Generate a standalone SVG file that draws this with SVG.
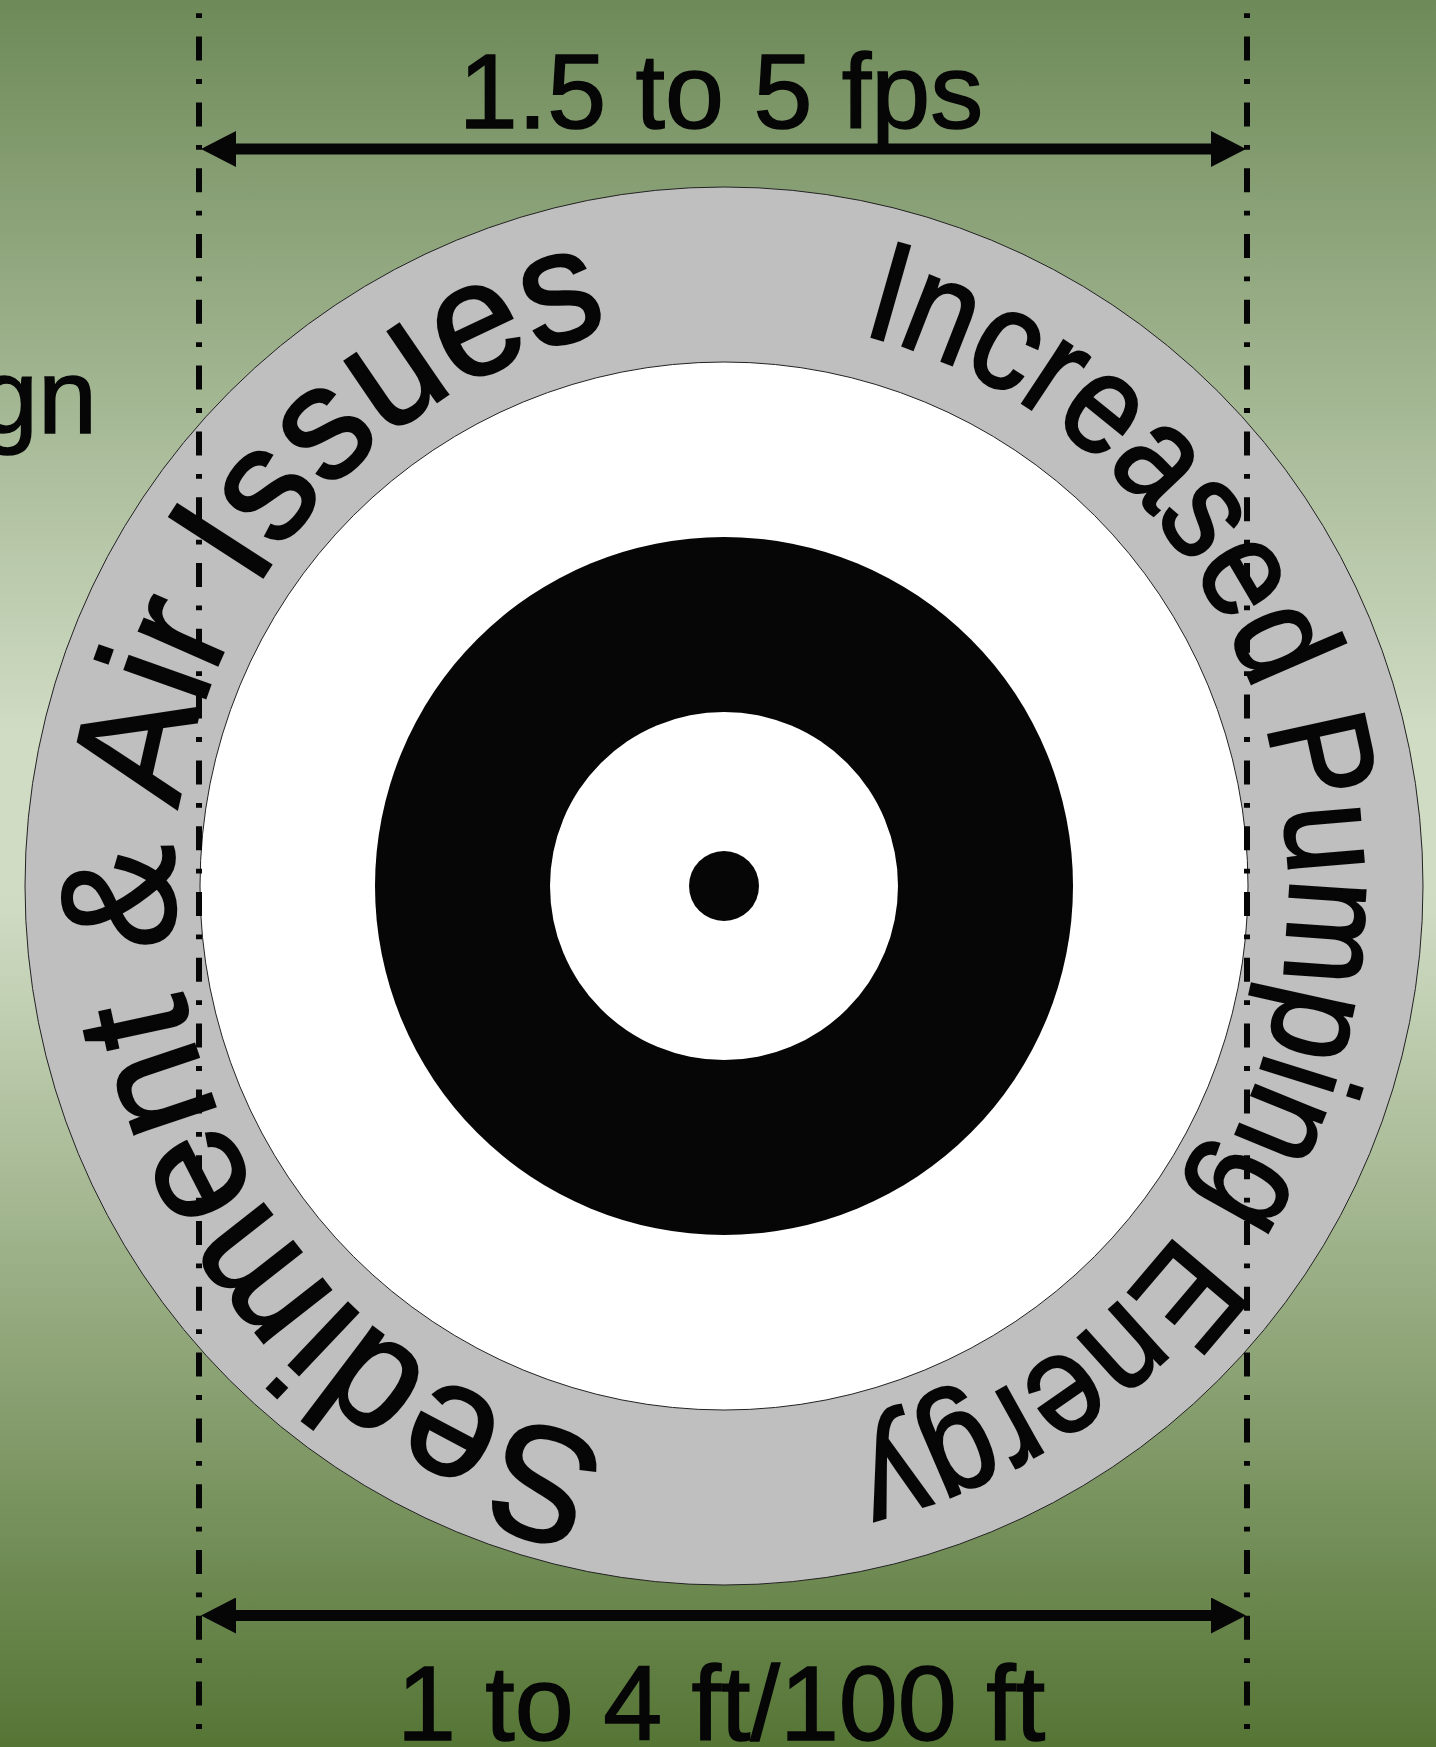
<svg xmlns="http://www.w3.org/2000/svg" width="1436" height="1747" viewBox="0 0 1436 1747">
  <defs>
    <linearGradient id="bg" x1="0" y1="0" x2="0" y2="1">
      <stop offset="0" stop-color="#6e8a58"/>
      <stop offset="0.42" stop-color="#d0dcc4"/>
      <stop offset="0.52" stop-color="#cfdbc3"/>
      <stop offset="1" stop-color="#557535"/>
    </linearGradient>
    <marker id="head" viewBox="0 0 35 36" markerWidth="35" markerHeight="36" markerUnits="userSpaceOnUse" refX="5" refY="18" orient="auto-start-reverse">
      <path d="M0,0 L35,18 L0,36 Z" fill="#060606"/>
    </marker>
    <path id="arcRight" d="M 860.44 334.02 A 564 573 0 1 1 587.56 1445.98 A 564 573 0 1 1 860.44 334.02"/>
    <path id="arcLeft" d="M 610.79 1444.77 A 549 569 0 1 1 837.21 331.23 A 549 569 0 1 1 610.79 1444.77"/>
    <style>
      .lbl { font-family: "Liberation Sans", Arial, sans-serif; fill: #060606; stroke: #060606; }
      .dim { font-size: 106px; stroke-width: 1.5; }
      .curved { stroke-width: 2.5; }
      .ring { stroke: #222; stroke-width: 1; }
      .guide { stroke: #060606; stroke-width: 6; stroke-dasharray: 24 18.5 4.8 18.5; stroke-dashoffset: 29.2; fill: none; }
      .arrow { stroke: #060606; stroke-width: 11; fill: none; marker-start: url(#head); marker-end: url(#head); }
    </style>
  </defs>

  <rect x="0" y="0" width="1436" height="1747" fill="url(#bg)"/>

  <text id="partial-label" class="lbl dim" x="97" y="433" text-anchor="end">gn</text>

  <g id="target">
    <circle class="ring" cx="724" cy="886" r="699" fill="#bfbfbf"/>
    <circle class="ring" cx="724" cy="886" r="524" fill="#ffffff"/>
    <circle cx="724" cy="886" r="349" fill="#060606"/>
    <circle cx="724" cy="886" r="174" fill="#ffffff"/>
    <circle cx="724" cy="886" r="35" fill="#060606"/>
  </g>

  <g id="ring-label-right">
    <text class="lbl curved" font-size="142"><textPath href="#arcRight" textLength="1520" lengthAdjust="spacingAndGlyphs">Increased Pumping Energy</textPath></text>
  </g>
  <g id="ring-label-left">
    <text class="lbl curved" font-size="162"><textPath href="#arcLeft" textLength="1530" lengthAdjust="spacingAndGlyphs">Sediment &amp; Air Issues</textPath></text>
  </g>

  <g id="guides">
    <line class="guide" x1="199" y1="0" x2="199" y2="1747"/>
    <line class="guide" x1="1247" y1="0" x2="1247" y2="1747"/>
  </g>

  <g id="connectors">
    <line class="arrow" x1="231" y1="149" x2="1216" y2="149"/>
    <line class="arrow" x1="231" y1="1615.5" x2="1216" y2="1615.5"/>
  </g>

  <g id="dimension-labels">
    <text id="velocity-label" class="lbl dim" x="721" y="128" text-anchor="middle">1.5 to 5 fps</text>
    <text id="slope-label" class="lbl dim" x="721" y="1740" text-anchor="middle">1 to 4 ft/100 ft</text>
  </g>
</svg>
